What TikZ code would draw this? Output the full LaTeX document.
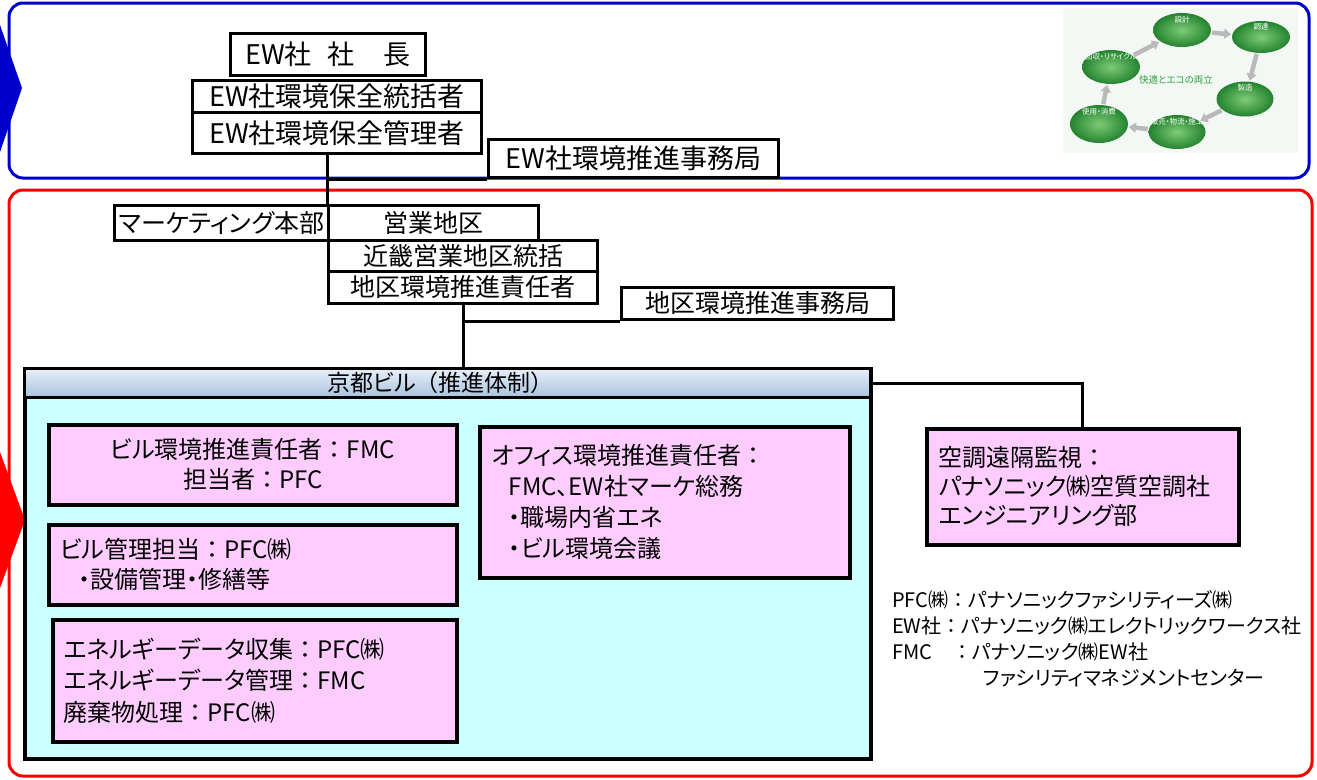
\documentclass[tikz,border=0pt]{standalone}
\usepackage{fontspec}
\setmainfont{Noto Sans CJK JP}[RawFeature=+palt]
\newfontfamily\fullw{Noto Sans CJK JP}
\usetikzlibrary{shapes.geometric,arrows.meta}
% full-width punctuation kept at its natural width
\newcommand\cln{{\fullw ：}}
\newcommand\lpar{{\fullw （}}
\newcommand\rpar{{\fullw ）}}
\definecolor{frameblue}{HTML}{0000CC}
\definecolor{framered}{HTML}{FF0000}
\definecolor{pinkfill}{HTML}{FFCCFF}
\definecolor{cyanfill}{HTML}{CCFFFF}
\definecolor{headtop}{HTML}{E8EFF8}
\definecolor{headbot}{HTML}{A8C2E0}
\definecolor{ecogreen}{HTML}{2E9E40}
\definecolor{ecoin}{HTML}{7FCB76}
\definecolor{ecoout}{HTML}{23832F}
\definecolor{ecobg}{HTML}{F4F8F4}
\tikzset{
  zoneframe/.style={line width=3pt, rounded corners=14pt},
  orgbox/.style={draw=black, line width=3pt, fill=white, inner sep=0pt,
    anchor=north west, align=center},
  toptext/.style={font=\fontsize{27}{31}\selectfont},
  redtext/.style={font=\fontsize{25}{29}\selectfont},
  pinkbox/.style={draw=black, line width=3.5pt, fill=pinkfill, inner ysep=0pt,
    anchor=north west, font=\fontsize{24}{30}\selectfont},
  link/.style={draw=black, line width=3pt},
  ecoellipse/.style={ellipse, inner color=ecoin, outer color=ecoout, inner sep=0pt},
  ecotitle/.style={text=white, font=\fontsize{7.5}{8}\selectfont},
  ecoarrow/.style={draw=gray!55, line width=4.5pt,
    -{Triangle[width=10pt,length=7pt]}, shorten <=1pt, shorten >=1pt},
}
\begin{document}
\begin{tikzpicture}[x=1pt, y=-1pt]
\useasboundingbox[fill=white] (0,0) rectangle (1317,779);

% --- zone frames and side markers
\draw[zoneframe, frameblue] (9,3) rectangle (1309,178);
\draw[zoneframe, framered] (9,190) rectangle (1312,776);
\fill[frameblue] (0,25) -- (22,88) -- (0,152) -- cycle;
\fill[framered] (0,452) -- (25,520) -- (0,588) -- cycle;

% --- eco cycle illustration
\fill[ecobg] (1063,8) rectangle (1298,153);
\node[ecoellipse, minimum width=58pt, minimum height=34pt] (design) at (1182,30) {};
\node[ecoellipse, minimum width=58pt, minimum height=32pt] (procure) at (1261,37) {};
\node[ecoellipse, minimum width=57pt, minimum height=35pt] (make) at (1245,99) {};
\node[ecoellipse, minimum width=57pt, minimum height=34pt] (ship) at (1177,132) {};
\node[ecoellipse, minimum width=58pt, minimum height=38pt] (use) at (1099,124) {};
\node[ecoellipse, minimum width=58pt, minimum height=34pt] (recycle) at (1111,67) {};
\node[ecotitle] (designt) at (1182,20) {設計};
\node[ecotitle] (procuret) at (1261,27) {調達};
\node[ecotitle] (maket) at (1245,88) {製造};
\node[ecotitle] (shipt) at (1177,122) {販売・物流・施工};
\node[ecotitle] (uset) at (1099,112) {使用・消費};
\node[ecotitle] (recyclet) at (1111,57) {回収・リサイクル};
\draw[ecoarrow] (design) -- (procure);
\draw[ecoarrow] (procure) -- (make);
\draw[ecoarrow] (make) -- (ship);
\draw[ecoarrow] (ship) -- (use);
\draw[ecoarrow] (use) -- (recycle);
\draw[ecoarrow] (recycle) -- (design);
\node[text=ecogreen, font=\fontsize{9.5}{10}\selectfont] (motto) at (1176,80) {快適とエコの両立};

% --- head office
\node[orgbox, toptext, minimum width=195pt, minimum height=42pt] (pres) at (229,32)
  {EW社\hspace{16pt}社\hspace{29pt}長};
\node[orgbox, toptext, minimum width=289pt, minimum height=32pt] (gen) at (191,79)
  {EW社環境保全統括者};
\node[orgbox, toptext, minimum width=289pt, minimum height=41pt] (mgr) at (191,111)
  {EW社環境保全管理者};
\node[orgbox, toptext, minimum width=290pt, minimum height=38pt] (hqoffice) at (487,138)
  {EW社環境推進事務局};

% --- sales region
\node[orgbox, redtext, minimum width=214pt, minimum height=35pt] (mkt) at (113,204)
  {マーケティング本部};
\node[orgbox, redtext, minimum width=210pt, minimum height=35pt] (sales) at (327,204)
  {営業地区};
\node[orgbox, redtext, minimum width=269pt, minimum height=31pt] (kinki) at (327,239)
  {近畿営業地区統括};
\node[orgbox, redtext, minimum width=269pt, minimum height=32pt] (dist) at (327,270)
  {地区環境推進責任者};
\node[orgbox, redtext, minimum width=272pt, minimum height=32pt] (distoffice) at (620,286)
  {地区環境推進事務局};

% --- Kyoto building
\node[draw=black, line width=3.5pt, fill=cyanfill, anchor=north west,
  minimum width=846pt, minimum height=390pt] (kyoto) at (23,367) {};
\node[draw=black, line width=3pt, top color=headtop, bottom color=headbot,
  anchor=north west, inner sep=0pt, minimum width=846pt, minimum height=29pt,
  font=\fontsize{23}{26}\selectfont] (kyotohead) at (23,367)
  {\hspace{-14pt}京都ビル\lpar 推進体制\rpar};

\node[pinkbox, align=center, inner xsep=0pt, minimum width=408pt, minimum height=80pt]
  (bldgenv) at (47,423) {ビル環境推進責任者\cln FMC\\担当者\cln PFC};
\node[pinkbox, align=left, inner xsep=11pt, text width=386pt, minimum height=80pt]
  (bldgmgmt) at (47,523) {ビル管理担当\cln PFC㈱\\\hspace{19pt}・設備管理・修繕等};
\node[pinkbox, align=left, inner xsep=11pt, text width=382pt, minimum height=122pt,
  font=\fontsize{24}{31.5}\selectfont]
  (energy) at (51,618) {エネルギーデータ収集\cln PFC㈱\\エネルギーデータ管理\cln FMC\\廃棄物処理\cln PFC㈱};
\node[pinkbox, align=left, inner xsep=12pt, text width=346pt, minimum height=151pt,
  font=\fontsize{24}{31}\selectfont]
  (officeenv) at (478,425) {オフィス環境推進責任者\cln\\\hspace{17pt}FMC、EW社マーケ総務\\\hspace{17pt}・職場内省エネ\\\hspace{17pt}・ビル環境会議};
\node[pinkbox, align=left, inner xsep=12pt, text width=288pt, minimum height=116pt,
  font=\fontsize{24}{29}\selectfont]
  (aircon) at (925,427) {空調遠隔監視\cln\\パナソニック㈱空質空調社\\エンジニアリング部};

% --- abbreviations
\node[anchor=north west, align=left, inner sep=0pt, font=\fontsize{20}{26}\selectfont]
  (legend) at (892,590)
  {PFC㈱\cln パナソニックファシリティーズ㈱\\
   EW社\cln パナソニック㈱エレクトリックワークス社\\
   FMC　\cln パナソニック㈱EW社\\
   \hspace{91pt}ファシリティマネジメントセンター};

% --- reporting lines
\draw[link] (mgr.south -| sales.north west) -- (sales.north west);
\draw[link] (hqoffice.south west) -| (sales.north west);
\draw[link] (distoffice.south west) -| (dist.south);
\draw[link] (dist.south) -- (dist.south |- kyotohead.north);
\draw[link] (kyotohead.east) -| (aircon.north);
\end{tikzpicture}
\end{document}
